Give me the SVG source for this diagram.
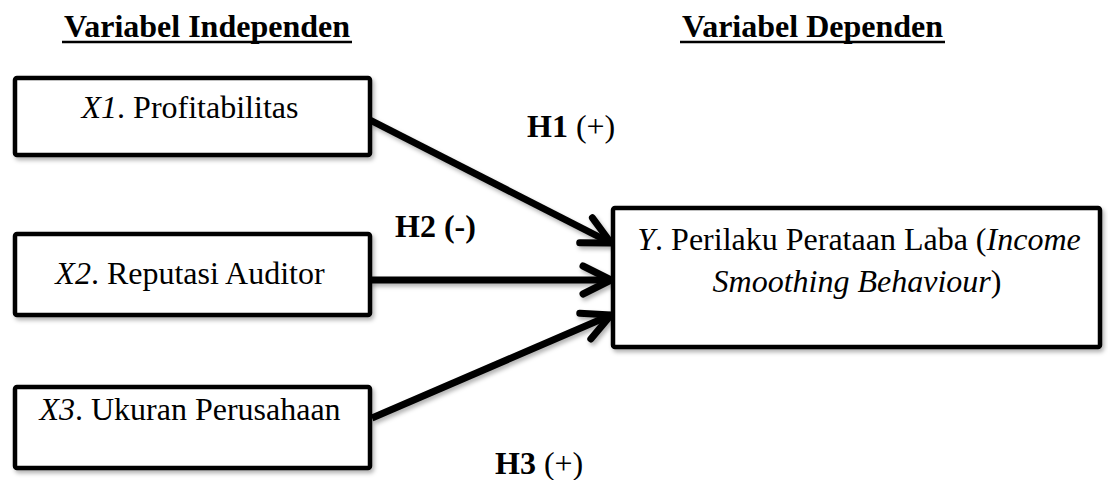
<svg xmlns="http://www.w3.org/2000/svg" width="1108" height="480" viewBox="0 0 1108 480">
  <style>
    text { font-family: "Liberation Serif", "Times New Roman", serif; font-size: 32px; fill: #000; }
    .head { font-weight: bold; text-anchor: middle; }
    .lbl { text-anchor: middle; }
    .hyp { font-weight: bold; }
    .box { fill: #fff; stroke: #000; stroke-width: 4.5; stroke-linejoin: round; }
    .conn { fill: none; stroke: #000; stroke-width: 7; }
    .ul { stroke: #000; stroke-width: 2.5; }
  </style>
  <defs>
    <filter id="sh" x="-10%" y="-10%" width="130%" height="130%">
      <feDropShadow dx="2" dy="3" stdDeviation="2" flood-color="#000" flood-opacity="0.3"/>
    </filter>
    <marker id="chev" markerUnits="userSpaceOnUse" markerWidth="40" markerHeight="40" viewBox="-34 -20 40 40" refX="0" refY="0" orient="auto" overflow="visible">
      <path d="M -28 -14 L 0 0 L -28 14" fill="none" stroke="#000" stroke-width="7" stroke-linecap="round" stroke-linejoin="round"/>
    </marker>
  </defs>
  <rect width="1108" height="480" fill="#fff"/>

  <g id="headings">
    <text class="head" x="207" y="37">Variabel Independen</text>
    <line class="ul" x1="62" y1="42" x2="352" y2="42"/>
    <text class="head" x="812.5" y="37">Variabel Dependen</text>
    <line class="ul" x1="680" y1="42" x2="945" y2="42"/>
  </g>

  <g id="connectors" filter="url(#sh)">
    <line class="conn" x1="370" y1="120" x2="611" y2="243" marker-end="url(#chev)"/>
    <line class="conn" x1="370" y1="280" x2="611" y2="280" marker-end="url(#chev)"/>
    <line class="conn" x1="372" y1="418" x2="611" y2="315" marker-end="url(#chev)"/>
  </g>

  <g id="node-x1">
    <rect class="box" x="15" y="78" width="355" height="77" rx="2" filter="url(#sh)"/>
    <text class="lbl" x="190" y="118"><tspan font-style="italic">X1</tspan>. Profitabilitas</text>
  </g>
  <g id="node-x2">
    <rect class="box" x="15" y="234" width="355" height="81" rx="2" filter="url(#sh)"/>
    <text class="lbl" x="190" y="284"><tspan font-style="italic">X2</tspan>. Reputasi Auditor</text>
  </g>
  <g id="node-x3">
    <rect class="box" x="15" y="387" width="355" height="81" rx="2" filter="url(#sh)"/>
    <text class="lbl" x="190" y="420"><tspan font-style="italic">X3</tspan>. Ukuran Perusahaan</text>
  </g>
  <g id="node-y">
    <rect class="box" x="613" y="208" width="487" height="139" rx="2" filter="url(#sh)"/>
    <text class="lbl" x="859" y="250"><tspan font-style="italic">Y</tspan>. Perilaku Perataan Laba (<tspan font-style="italic">Income</tspan></text>
    <text class="lbl" x="857" y="292"><tspan font-style="italic">Smoothing Behaviour</tspan>)</text>
  </g>

  <g id="labels">
    <text x="527" y="137"><tspan class="hyp">H1</tspan> (+)</text>
    <text class="hyp" x="395" y="237">H2 (-)</text>
    <text x="495" y="474"><tspan class="hyp">H3</tspan> (+)</text>
  </g>
</svg>
